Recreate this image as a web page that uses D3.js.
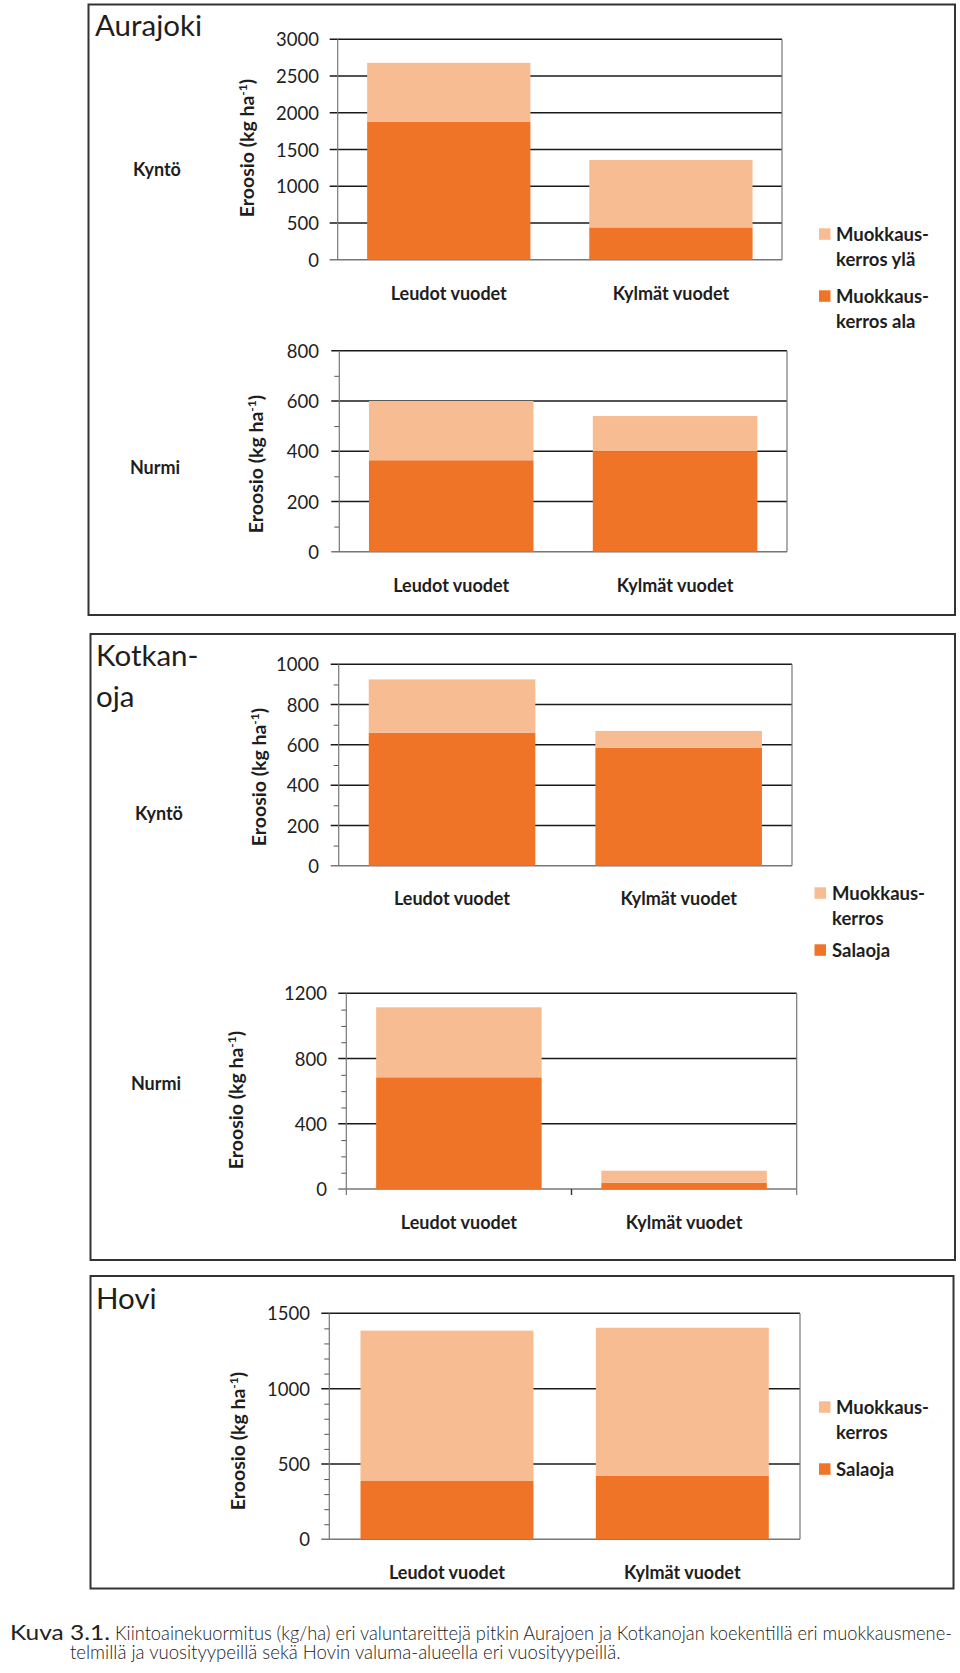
<!DOCTYPE html>
<html>
<head>
<meta charset="utf-8">
<script src="https://cdn.jsdelivr.net/npm/d3@7"></script>
<style>
  html, body { margin: 0; padding: 0; background: #fff; }
  svg { display: block; }
</style>
</head>
<body>
<svg id="chart" width="960" height="1673"></svg>
<script>
// ---------- DATA ----------
const categories = ["Leudot vuodet", "Kylmät vuodet"];

// Aurajoki
const aurajokiKyntoAla = [1875, 440];
const aurajokiKyntoYla = [805, 917];
const aurajokiNurmiAla = [364, 400];
const aurajokiNurmiYla = [236, 140];
// Kotkanoja
const kotkanojaKyntoSalaoja = [660, 586];
const kotkanojaKyntoMuokkaus = [265, 83];
const kotkanojaNurmiSalaoja = [685, 39];
const kotkanojaNurmiMuokkaus = [429, 73];
// Hovi
const hoviSalaoja = [387, 422];
const hoviMuokkaus = [998, 982];

// Tick labels
const ticksAurajokiKynto = [0, 500, 1000, 1500, 2000, 2500, 3000];
const ticksAurajokiNurmi = [0, 200, 400, 600, 800];
const ticksKotkanojaKynto = [0, 200, 400, 600, 800, 1000];
const ticksKotkanojaNurmi = [0, 400, 800, 1200];
const ticksHovi = [0, 500, 1000, 1500];

// Legend labels
const legendAurajoki = [["Muokkaus-", "kerros ylä"], ["Muokkaus-", "kerros ala"]];
const legendSalaoja = [["Muokkaus-", "kerros"], ["Salaoja"]];

const yTitle = "Eroosio (kg ha";
const caption1a = "Kuva 3.1.";
const caption1b = "Kiintoainekuormitus (kg/ha) eri valuntareittejä pitkin  Aurajoen ja Kotkanojan koekentillä eri muokkausmene-";
const caption2 = "telmillä ja vuosityypeillä sekä Hovin valuma-alueella eri vuosityypeillä.";

// ---------- STYLE ----------
const DARK = "#F07427";
const LIGHT = "#F8BC93";
const FONT = "Lato, 'Open Sans', sans-serif";
const TEXT = "#1e1e1e";

const svg = d3.select("#chart");
svg.append("rect").attr("width", 960).attr("height", 1673).attr("fill", "#fff");

// panel boxes
const boxes = [
  {x0: 88.5, y0: 4.5, x1: 955, y1: 615},
  {x0: 90.5, y0: 634, x1: 955, y1: 1260},
  {x0: 90.5, y0: 1276, x1: 953.5, y1: 1588.5}
];
svg.append("g").selectAll("rect").data(boxes).join("rect")
  .attr("x", d => d.x0).attr("y", d => d.y0)
  .attr("width", d => d.x1 - d.x0).attr("height", d => d.y1 - d.y0)
  .attr("fill", "none").attr("stroke", "#333").attr("stroke-width", 2);

// panel titles
const titles = [
  {t: "Aurajoki", x: 95, y: 36},
  {t: "Kotkan-", x: 96, y: 666},
  {t: "oja", x: 96, y: 707},
  {t: "Hovi", x: 96, y: 1309}
];
svg.append("g").selectAll("text").data(titles).join("text")
  .attr("x", d => d.x).attr("y", d => d.y).text(d => d.t)
  .attr("font-family", FONT).attr("font-size", 29.5).attr("fill", TEXT);

function drawChart(cfg) {
  const g = svg.append("g");
  const x = d3.scaleBand().domain(categories)
    .range([cfg.x0, cfg.x1]).paddingInner(0.265).paddingOuter(0.1325);
  const y = d3.scaleLinear().domain([0, cfg.max]).range([cfg.yBot, cfg.yTop]);

  // minor ticks
  if (cfg.minor.length) {
    const mg = g.append("g").attr("transform", `translate(${cfg.x0},0)`)
      .call(d3.axisLeft(y).tickValues(cfg.minor).tickSize(5).tickFormat(""));
    mg.select(".domain").remove();
    mg.selectAll("line").attr("stroke", "#555").attr("stroke-width", 1);
  }

  // gridlines (extend outward as major ticks)
  g.append("g").selectAll("line").data(cfg.ticks).join("line")
    .attr("x1", cfg.x0 - 8).attr("x2", cfg.x1)
    .attr("y1", d => y(d)).attr("y2", d => y(d))
    .attr("stroke", d => d === 0 ? "#777" : "#1a1a1a")
    .attr("stroke-width", 1.5);

  // left axis and right border
  g.append("line").attr("x1", cfg.x0).attr("x2", cfg.x0)
    .attr("y1", cfg.yTop).attr("y2", cfg.xTicks ? cfg.yBot + 6 : cfg.yBot)
    .attr("stroke", "#777").attr("stroke-width", 1.2);
  g.append("line").attr("x1", cfg.x1).attr("x2", cfg.x1)
    .attr("y1", cfg.yTop).attr("y2", cfg.xTicks ? cfg.yBot + 6 : cfg.yBot)
    .attr("stroke", "#777").attr("stroke-width", 1.2);

  if (cfg.xTicks) {
    const step = x.step(), p = x.paddingInner();
    const mid = x(categories[1]) - step * p / 2;
    g.append("line").attr("x1", mid).attr("x2", mid)
      .attr("y1", cfg.yBot).attr("y2", cfg.yBot + 6)
      .attr("stroke", "#333").attr("stroke-width", 1.4);
  }

  // bars
  const rows = categories.map((c, i) => ({cat: c, lower: cfg.lower[i], upper: cfg.upper[i]}));
  const stacked = d3.stack().keys(["lower", "upper"])(rows);
  const colors = {lower: DARK, upper: LIGHT};
  g.append("g").selectAll("g").data(stacked).join("g")
    .attr("fill", d => colors[d.key])
    .selectAll("rect").data(d => d).join("rect")
    .attr("x", d => x(d.data.cat))
    .attr("width", x.bandwidth())
    .attr("y", d => y(d[1]))
    .attr("height", d => y(d[0]) - y(d[1]));

  // y tick labels
  const ax = g.append("g").attr("transform", `translate(${cfg.x0},0)`)
    .call(d3.axisLeft(y).tickValues(cfg.ticks).tickSize(0).tickPadding(cfg.x0 - cfg.labelRight).tickFormat(d3.format("d")));
  ax.select(".domain").remove();
  ax.attr("font-family", FONT).attr("font-size", 18.5);
  ax.selectAll("text").attr("fill", TEXT).attr("dy", "0.36em");

  // category labels
  g.append("g").selectAll("text").data(categories).join("text")
    .attr("x", d => x(d) + x.bandwidth() / 2).attr("y", cfg.catY + 6.5)
    .attr("text-anchor", "middle").attr("font-family", FONT)
    .attr("font-weight", 700).attr("font-size", 18).attr("fill", TEXT)
    .text(d => d);

  // side label
  if (cfg.side) {
    g.append("text").attr("x", cfg.side.x).attr("y", cfg.side.y + 6.5)
      .attr("text-anchor", "middle").attr("font-family", FONT)
      .attr("font-weight", 700).attr("font-size", 18).attr("fill", TEXT)
      .text(cfg.side.t);
  }

  // y title
  const yt = g.append("text")
    .attr("transform", `translate(${cfg.yt.x},${cfg.yt.y}) rotate(-90)`)
    .attr("text-anchor", "middle").attr("dy", "0.36em")
    .attr("font-family", FONT).attr("font-weight", 700).attr("font-size", 19.5).attr("fill", TEXT);
  yt.append("tspan").text(yTitle);
  yt.append("tspan").attr("font-size", 12).attr("dy", -7).text("-1");
  yt.append("tspan").attr("dy", 7).text(")");
}

function drawLegend(items, lx, tx, ys) {
  const g = svg.append("g");
  const cols = [LIGHT, DARK];
  items.forEach((lines, i) => {
    const y0 = ys[i];
    g.append("rect").attr("x", lx).attr("y", y0 - 5.7).attr("width", 11.5).attr("height", 11.5)
      .attr("fill", cols[i]);
    lines.forEach((ln, j) => {
      g.append("text").attr("x", tx).attr("y", y0 + j * 25 + 6.5)
        .attr("font-family", FONT).attr("font-weight", 700).attr("font-size", 18.5)
        .attr("fill", TEXT).text(ln);
    });
  });
}

drawChart({x0: 337.7, x1: 782, yTop: 39.3, yBot: 259.7, max: 3000,
  ticks: ticksAurajokiKynto, minor: [], labelRight: 319, catY: 293,
  lower: aurajokiKyntoAla, upper: aurajokiKyntoYla,
  side: {t: "Kyntö", x: 157, y: 169}, yt: {x: 247, y: 148}});

drawChart({x0: 339.3, x1: 787, yTop: 350.7, yBot: 551.7, max: 800,
  ticks: ticksAurajokiNurmi, minor: d3.range(100, 800, 200), labelRight: 319, catY: 585,
  lower: aurajokiNurmiAla, upper: aurajokiNurmiYla,
  side: {t: "Nurmi", x: 155, y: 467}, yt: {x: 256, y: 464}});

drawChart({x0: 338.7, x1: 792, yTop: 664.3, yBot: 865.7, max: 1000,
  ticks: ticksKotkanojaKynto, minor: d3.range(100, 1000, 200), labelRight: 319, catY: 898,
  lower: kotkanojaKyntoSalaoja, upper: kotkanojaKyntoMuokkaus,
  side: {t: "Kyntö", x: 159, y: 813}, yt: {x: 259, y: 777}});

drawChart({x0: 346.3, x1: 796.7, yTop: 993.3, yBot: 1189, max: 1200,
  ticks: ticksKotkanojaNurmi, minor: d3.range(100, 1200, 100).filter(v => v % 400 !== 0),
  labelRight: 327, catY: 1222, xTicks: true,
  lower: kotkanojaNurmiSalaoja, upper: kotkanojaNurmiMuokkaus,
  side: {t: "Nurmi", x: 156, y: 1083}, yt: {x: 236, y: 1100}});

drawChart({x0: 329.3, x1: 800, yTop: 1313.3, yBot: 1539.3, max: 1500,
  ticks: ticksHovi, minor: d3.range(100, 1500, 100).filter(v => v % 500 !== 0),
  labelRight: 310, catY: 1572,
  lower: hoviSalaoja, upper: hoviMuokkaus,
  side: null, yt: {x: 238, y: 1441}});

drawLegend(legendAurajoki, 819, 836, [234, 296]);
drawLegend(legendSalaoja, 814.5, 832, [893, 950]);
drawLegend(legendSalaoja, 819, 836, [1407, 1469]);

// caption: each line is scaled horizontally to the reference width
const capLines = [
  {t: caption1a, x: 10, y: 1640, w: 100, fs: 21, fw: 400},
  {t: caption1b, x: 115, y: 1640, w: 838, fs: 19.5, fw: 300},
  {t: caption2, x: 70, y: 1658.5, w: 551, fs: 19.5, fw: 300}
];
capLines.forEach(c => {
  const gg = svg.append("g");
  const t = gg.append("text").attr("x", 0).attr("y", 0)
    .attr("font-family", FONT).attr("font-size", c.fs).attr("font-weight", c.fw)
    .attr("fill", "#222").text(c.t);
  const nat = t.node().getComputedTextLength() || c.w;
  gg.attr("transform", `translate(${c.x},${c.y}) scale(${c.w / nat},1)`);
});
</script>
</body>
</html>
